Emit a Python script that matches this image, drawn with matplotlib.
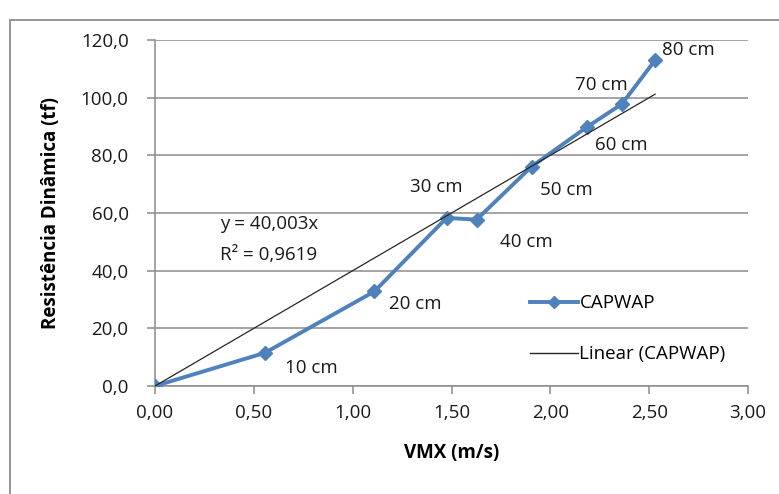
import matplotlib
matplotlib.use("Agg")
import matplotlib.pyplot as plt
from matplotlib.patches import Rectangle
from matplotlib.lines import Line2D
import numpy as np

# CAPWAP dynamic resistance versus VMX
vmx = [0.00, 0.556, 1.11, 1.475, 1.627, 1.905, 2.185, 2.362, 2.53]
resist = [0.0, 11.5, 32.8, 58.3, 57.7, 76.1, 89.8, 97.8, 113.0]
depths = ["", "10 cm", "20 cm", "30 cm", "40 cm", "50 cm", "60 cm", "70 cm", "80 cm"]
slope = 40.003
r2_text = "0,9619"

x_ticks = [0.0, 0.5, 1.0, 1.5, 2.0, 2.5, 3.0]
y_ticks = [0, 20, 40, 60, 80, 100, 120]

# label offsets (points) for each depth, left edge / vertical centre
label_offsets = [(0, 0), (14.4, -10.8), (10.8, -9.4), (-26.6, 22.3), (16.6, -15.8),
                 (5.8, -16.6), (5.8, -13), (-33.8, 13.7), (5, 7.2)]

plt.rcParams['font.family'] = ['Open Sans', 'DejaVu Sans']
FS = 13.5

W, H = 779, 494
fig = plt.figure(figsize=(W / 100, H / 100), dpi=100)
fig.patches.append(Rectangle((10 / W, -0.1), 1.2, 1 - 20 / H + 0.1,
                             transform=fig.transFigure, fill=False,
                             edgecolor="#8c8c8c", linewidth=1.3))

ax = fig.add_axes([155 / W, 1 - 386 / H, (748 - 155) / W, (386 - 40) / H])
blue = "#4f81bd"
ax.plot(vmx, resist, color=blue, linewidth=2.8, marker="D", markersize=7.5,
        label="CAPWAP", zorder=4)

xt = np.array([0.0, max(vmx)])
ax.plot(xt, slope * xt, color="#262626", linewidth=0.9, zorder=5,
        label="Linear (CAPWAP)")

for x, y, lbl, off in zip(vmx, resist, depths, label_offsets):
    if lbl:
        ax.annotate(lbl, (x, y), xytext=off, textcoords="offset points",
                    fontsize=FS, color="#1a1a1a", ha="left", va="center")

ax.text(0.33, 56.3, f"y = {slope:.3f}x".replace(".", ","), fontsize=FS,
        color="#1a1a1a", va="center")
ax.text(0.33, 45.3, f"R² = {r2_text}", fontsize=FS, color="#1a1a1a",
        va="center")

ax.set_xlim(0, 3)
ax.set_ylim(0, 120)
ax.set_xticks(x_ticks)
ax.set_yticks(y_ticks)
ax.set_xticklabels([f"{v:.2f}".replace(".", ",") for v in x_ticks], fontsize=FS)
ax.set_yticklabels([f"{v:.1f}".replace(".", ",") for v in y_ticks], fontsize=FS)
ax.yaxis.grid(True, color="#8c8c8c", linewidth=1.1)
ax.set_axisbelow(True)
for s in ["top", "right"]:
    ax.spines[s].set_visible(False)
for s in ["left", "bottom"]:
    ax.spines[s].set_color("#8c8c8c")
    ax.spines[s].set_linewidth(1.1)
ax.tick_params(axis="both", colors="#8c8c8c", labelcolor="#1a1a1a", length=6,
               width=1.1)
ax.tick_params(axis="x", pad=7)
ax.tick_params(axis="y", pad=13)

ax.set_xlabel("VMX (m/s)", fontsize=FS, fontweight="bold", labelpad=15)
ax.set_ylabel("Resistência Dinâmica (tf)", fontsize=FS, fontweight="bold",
              labelpad=14)

handles = [Line2D([], [], color=blue, linewidth=2.8, marker="D", markersize=6.5),
           Line2D([], [], color="#262626", linewidth=1.0)]
ax.legend(handles, ["CAPWAP", "Linear (CAPWAP)"], loc="upper left",
          bbox_to_anchor=(0.632, 0.265), frameon=False, fontsize=FS,
          borderpad=0, borderaxespad=0, handlelength=2.55, handletextpad=0.1,
          labelspacing=1.75)

fig.savefig("out.png", dpi=100)
